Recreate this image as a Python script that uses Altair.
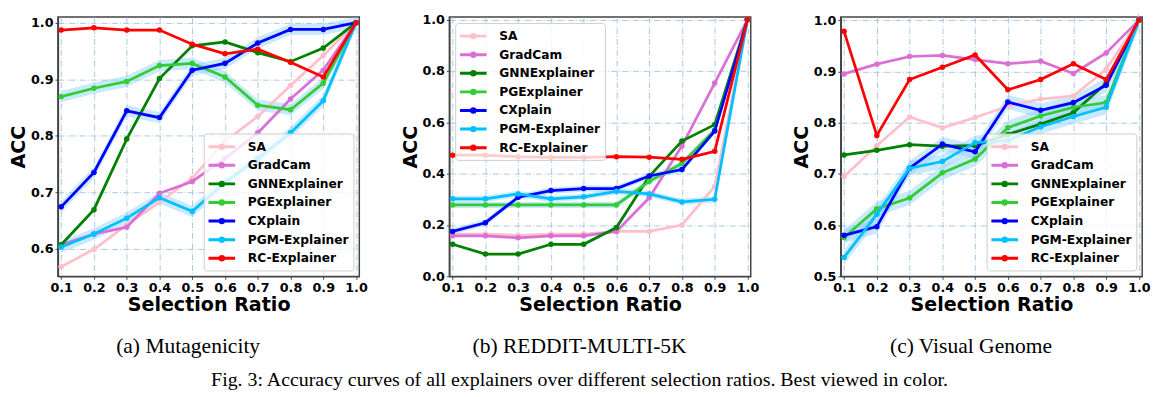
import altair as alt
import pandas as pd

ratios = [0.1, 0.2, 0.3, 0.4, 0.5, 0.6, 0.7, 0.8, 0.9, 1.0]
methods = ["SA", "GradCam", "GNNExplainer", "PGExplainer", "CXplain", "PGM-Explainer", "RC-Explainer"]
colors = ["#ffc0cb", "#da70d6", "#008000", "#32cd32", "#0000ff", "#00bfff", "#ff0000"]
banded = ["PGExplainer", "CXplain", "PGM-Explainer"]

# (a) Mutagenicity
mut_sa = [0.568, 0.599, 0.642, 0.682, 0.725, 0.790, 0.834, 0.889, 0.942, 1.0]
mut_gradcam = [0.607, 0.626, 0.638, 0.698, 0.719, 0.760, 0.805, 0.865, 0.916, 1.0]
mut_gnn = [0.607, 0.669, 0.794, 0.901, 0.959, 0.966, 0.947, 0.931, 0.955, 1.0]
mut_pg = [0.869, 0.884, 0.896, 0.924, 0.928, 0.904, 0.854, 0.846, 0.893, 1.0]
mut_cx = [0.674, 0.735, 0.844, 0.832, 0.916, 0.928, 0.964, 0.988, 0.988, 1.0]
mut_pgm = [0.603, 0.626, 0.654, 0.690, 0.666, 0.717, 0.760, 0.805, 0.862, 1.0]
mut_rc = [0.987, 0.991, 0.987, 0.987, 0.962, 0.945, 0.953, 0.930, 0.904, 1.0]

# (b) REDDIT-MULTI-5K
red_sa = [0.165, 0.165, 0.160, 0.165, 0.165, 0.175, 0.175, 0.200, 0.350, 1.0]
red_gradcam = [0.158, 0.158, 0.150, 0.158, 0.158, 0.175, 0.306, 0.508, 0.753, 1.0]
red_gnn = [0.125, 0.087, 0.087, 0.125, 0.125, 0.190, 0.390, 0.527, 0.591, 1.0]
red_pg = [0.278, 0.278, 0.278, 0.278, 0.278, 0.278, 0.370, 0.440, 0.570, 1.0]
red_cx = [0.175, 0.209, 0.308, 0.334, 0.342, 0.342, 0.391, 0.416, 0.566, 1.0]
red_pgm = [0.302, 0.302, 0.321, 0.302, 0.310, 0.331, 0.321, 0.290, 0.300, 1.0]
red_rc = [0.472, 0.472, 0.466, 0.463, 0.463, 0.466, 0.464, 0.456, 0.487, 1.0]

# (c) Visual Genome
vg_sa = [0.695, 0.755, 0.811, 0.790, 0.810, 0.832, 0.846, 0.852, 0.904, 1.0]
vg_gradcam = [0.895, 0.914, 0.929, 0.931, 0.923, 0.915, 0.920, 0.896, 0.936, 1.0]
vg_gnn = [0.737, 0.746, 0.757, 0.754, 0.755, 0.777, 0.797, 0.819, 0.877, 1.0]
vg_pg = [0.576, 0.632, 0.653, 0.702, 0.729, 0.790, 0.813, 0.830, 0.839, 1.0]
vg_cx = [0.580, 0.597, 0.711, 0.758, 0.743, 0.840, 0.824, 0.839, 0.873, 1.0]
vg_pgm = [0.537, 0.621, 0.711, 0.724, 0.761, 0.765, 0.792, 0.812, 0.830, 1.0]
vg_rc = [0.978, 0.775, 0.884, 0.908, 0.932, 0.864, 0.884, 0.915, 0.884, 1.0]

band_halfwidth = [0.010, 0.012, 0.014]
captions = ["(a) Mutagenicity", "(b) REDDIT-MULTI-5K", "(c) Visual Genome"]
fig_caption = "Fig. 3: Accuracy curves of all explainers over different selection ratios. Best viewed in color."

PW, PH = 308, 265
LEGEND_SYMBOL = "M-1.7,0H1.7M-0.22,0A0.22,0.22,0,1,1,0.22,0A0.22,0.22,0,1,1,-0.22,0"


def panel(series, ydomain, yticks, band, legend_orient, caption):
    rows = []
    for m, vals in zip(methods, series):
        for r, v in zip(ratios, vals):
            rows.append({"ratio": r, "acc": v, "method": m, "lo": v - band, "hi": v + band})
    df = pd.DataFrame(rows)
    x = alt.X("ratio:Q", scale=alt.Scale(domain=[0.09, 1.01], nice=False, zero=False),
              axis=alt.Axis(values=ratios, format=".1f", title="Selection Ratio"))
    yaxis = alt.Axis(values=yticks, format=".1f", title="ACC")
    yscale = alt.Scale(domain=ydomain, nice=False, zero=False)
    color = alt.Color("method:N", scale=alt.Scale(domain=methods, range=colors),
                      legend=alt.Legend(title=None, orient=legend_orient, offset=6))
    layers = []
    for m in banded:
        layers.append(
            alt.Chart(df).transform_filter(alt.datum.method == m)
            .mark_area(color="#87cefa", opacity=0.45)
            .encode(x=x, y=alt.Y("lo:Q", scale=yscale, axis=yaxis), y2="hi:Q")
        )
    for m in methods:
        layers.append(
            alt.Chart(df).transform_filter(alt.datum.method == m)
            .mark_line(strokeWidth=2.8, point=alt.OverlayMarkDef(filled=True, size=32))
            .encode(x=x, y=alt.Y("acc:Q", scale=yscale, axis=yaxis), color=color)
        )
    return alt.layer(*layers).properties(
        width=PW, height=PH,
        title=alt.TitleParams(caption, orient="bottom", font="Liberation Serif", fontSize=22,
                              fontWeight="normal", color="black", offset=23, anchor="middle",
                              frame="bounds"),
    )


pa = panel([mut_sa, mut_gradcam, mut_gnn, mut_pg, mut_cx, mut_pgm, mut_rc],
           [0.551, 1.01], [0.6, 0.7, 0.8, 0.9, 1.0], band_halfwidth[0], "bottom-right", captions[0])
pb = panel([red_sa, red_gradcam, red_gnn, red_pg, red_cx, red_pgm, red_rc],
           [0.0, 1.01], [0.0, 0.2, 0.4, 0.6, 0.8, 1.0], band_halfwidth[1], "top-left", captions[1])
pc = panel([vg_sa, vg_gradcam, vg_gnn, vg_pg, vg_cx, vg_pgm, vg_rc],
           [0.5, 1.006], [0.5, 0.6, 0.7, 0.8, 0.9, 1.0], band_halfwidth[2], "bottom-right", captions[2])

chart = (
    alt.hconcat(pa, pb, pc, spacing=32)
    .resolve_scale(x="independent", y="independent", color="independent")
    .resolve_legend(color="independent")
    .properties(
        padding={"left": 0, "top": 0, "right": 0, "bottom": 0},
        title=alt.TitleParams(fig_caption, orient="bottom", font="Liberation Serif", fontSize=20.3,
                              fontWeight="normal", color="black", offset=13, anchor="middle"),
    )
    .configure_view(stroke="#444444", strokeWidth=1.5)
    .configure_axis(
        labelFont="DejaVu Sans", labelFontWeight="bold", labelFontSize=13, labelColor="black",
        titleFont="DejaVu Sans", titleFontWeight="bold", titleFontSize=19.5, titleColor="black",
        gridColor="#a9c8e2", gridDash=[6, 2, 1, 2], gridWidth=1,
        domainColor="#444444", domainWidth=1.5, tickColor="#444444", tickSize=3,
        labelPadding=2, titlePadding=2, labelFlush=False, labelOverlap=False,
    )
    .configure_legend(
        fillColor="rgba(255,255,255,0.8)", strokeColor="#cccccc", cornerRadius=3, padding=4,
        labelFont="DejaVu Sans", labelFontWeight="bold", labelFontSize=12.5, labelColor="black",
        symbolType=LEGEND_SYMBOL, symbolStrokeWidth=3, symbolSize=256, rowPadding=1,
        symbolOffset=5, labelOffset=17,
    )
)

chart.save("out.html", embed_options={"renderer": "svg", "actions": False})
